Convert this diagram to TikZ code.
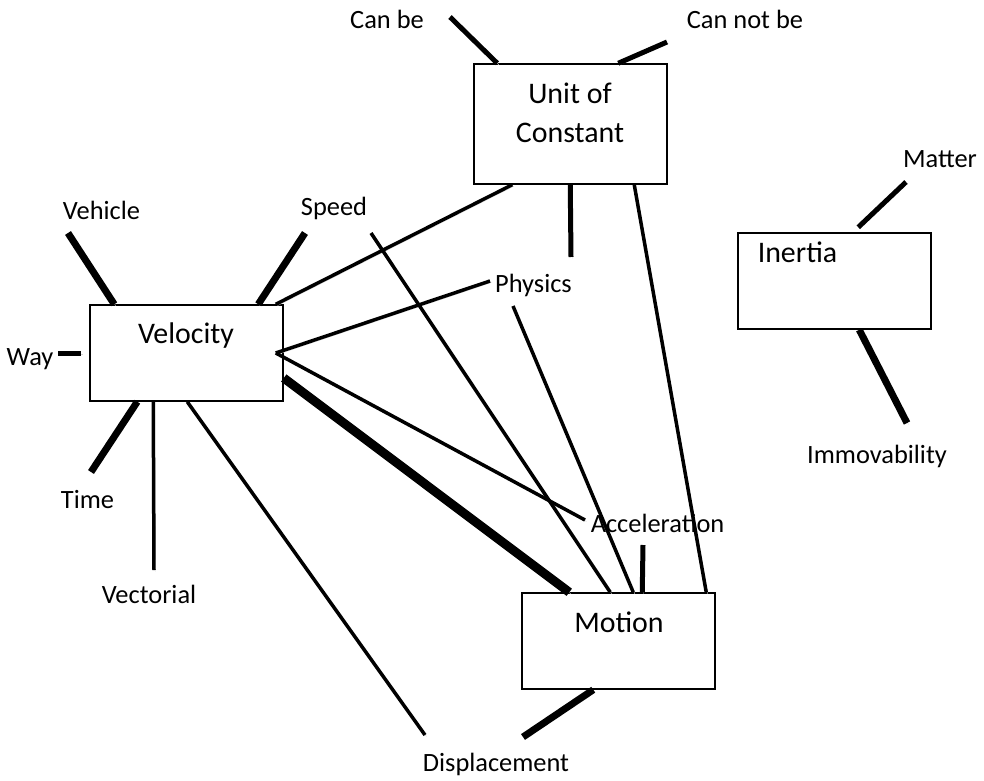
\documentclass[tikz,border=0pt]{standalone}
\usepackage{fontspec}
\setmainfont{Carlito}
\usetikzlibrary{calc}

\tikzset{
  box/.style={draw=black, line width=1.5bp, minimum width=193bp, inner sep=0pt},
  lbl/.style={anchor=base, font=\fontsize{26.5}{30}\selectfont, inner sep=0pt},
  boxlbl/.style={anchor=base, font=\fontsize{30}{36}\selectfont, inner sep=0pt},
  shade/.style={preaction={draw=black!18, transform canvas={shift={(1.5bp,-1.5bp)}}}},
  wire/.style={shade, line width=3.5bp},
  wireM/.style={shade, line width=5bp},
  wireB/.style={shade, line width=7bp},
  wireH/.style={shade, line width=9bp}
}

\begin{document}
\begin{tikzpicture}[x=1bp, y=-1bp]
      \useasboundingbox (0,0) rectangle (984,781);

      % boxes
      \node[box, minimum height=96bp] (vel) at (186.5,353) {};
      \node[box, minimum height=120bp] (unit) at (570.5,124) {};
      \node[box, minimum height=96bp] (motion) at (618.5,641) {};
      \node[box, minimum height=96bp] (inertia) at (834.5,281) {};

      \node[boxlbl] (velT) at (186,343) {Velocity};
      \node[boxlbl] (unitT) at (570,103) {Unit of};
      \node[boxlbl] (unitB) at (570,142) {Constant};
      \node[boxlbl] (motionT) at (619,632) {Motion};
      \node[boxlbl] (inertiaT) at (797.5,262) {Inertia};

      % labels
      \node[lbl] (canbe) at (387,29) {Can be};
      \node[lbl] (cannot) at (745,29) {Can not be};
      \node[lbl] (vehicle) at (101.5,219) {Vehicle};
      \node[lbl] (speed) at (334,215) {Speed};
      \node[lbl] (way) at (30,365) {Way};
      \node[lbl] (time) at (87.5,508) {Time};
      \node[lbl] (vect) at (149,603) {Vectorial};
      \node[lbl] (physics) at (533.5,292) {Physics};
      \node[lbl] (accel) at (657.5,532) {Acceleration};
      \node[lbl] (displ) at (496,771) {Displacement};
      \node[lbl] (matter) at (940,167) {Matter};
      \node[lbl] (immov) at (877,463) {Immovability};

      % free ends
      \coordinate (canbeE) at (450,17);
      \coordinate (cannotE) at (667,42);
      \coordinate (vehicleE) at (68,233);
      \coordinate (speedE) at (305,233);
      \coordinate (speedL) at (371,233);
      \coordinate (wayE) at (58,353);
      \coordinate (timeE) at (91,472);
      \coordinate (vectE) at (154,570);
      \coordinate (displE) at (425,735);
      \coordinate (displS) at (523,737);
      \coordinate (physE) at (490,281);
      \coordinate (physL) at (513,306);
      \coordinate (physU) at (571,257);
      \coordinate (accelE) at (585,520);
      \coordinate (accelS) at (643,545);
      \coordinate (matterE) at (906,182);
      \coordinate (immovE) at (907,423);

      % around Velocity
      \draw[wireB] (vehicleE) -- ($(vel.north west)+(25,0)$);
      \draw[wireB] (speedE) -- ($(vel.north west)+(169,0)$);
      \draw[wireM, shorten >=8bp] (wayE) -- (vel.west);
      \draw[wireB] ($(vel.south west)+(48,0)$) -- (timeE);
      \draw[wire] ($(vel.south west)+(64,0)$) -- (vectE);
      \draw[wire] ($(vel.south west)+(98,0)$) -- (displE);
      \draw[wire] ($(vel.north east)+(-8,0)$) -- ($(unit.south west)+(39,0)$);
      \draw[wire] ($(vel.east)+(-8,0)$) -- (physE);
      \draw[wire] ($(vel.east)+(-8,0)$) -- (accelE);
      \draw[wireH] ($(vel.east)+(0,25)$) -- ($(motion.north west)+(48,0)$);

      % into Motion
      \draw[wire] (speedL) -- ($(motion.north west)+(89,0)$);
      \draw[wire] (physL) -- ($(motion.north west)+(112,0)$);
      \draw[wireM] (accelS) -- ($(motion.north west)+(121,0)$);
      \draw[wire] ($(unit.south west)+(161,0)$) -- ($(motion.north west)+(185,0)$);
      \draw[wireB] ($(motion.south west)+(72,0)$) -- (displS);

      % around Unit of Constant
      \draw[wireM] (canbeE) -- ($(unit.north west)+(24,0)$);
      \draw[wireM] (cannotE) -- ($(unit.north west)+(145,0)$);
      \draw[wireM] ($(unit.south west)+(97,0)$) -- (physU);

      % around Inertia
      \draw[wireM] (matterE) -- ($(inertia.north west)+(121,-5)$);
      \draw[wireB] ($(inertia.south west)+(122,0)$) -- (immovE);
\end{tikzpicture}
\end{document}
